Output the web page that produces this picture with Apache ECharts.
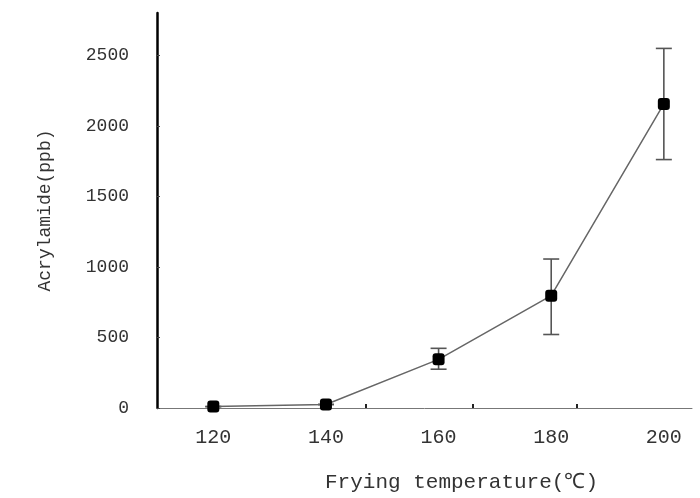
<!DOCTYPE html>
<html>
<head>
<meta charset="utf-8">
<script src="https://cdn.jsdelivr.net/npm/echarts@6/dist/echarts.min.js"></script>
<style>
  html, body { margin: 0; padding: 0; background: #fff; }
  #chart { width: 700px; height: 498px; }
</style>
</head>
<body>
<div id="chart"></div>
<script>
// 油炸温度 (℃)
const temperatures = [120, 140, 160, 180, 200]
// 丙烯酰胺平均值 (ppb)
const acrylamide = [10, 25, 345, 796, 2155]
// 误差线上下限
const errLow = [10, 25, 275, 521, 1761]
const errHigh = [10, 25, 423, 1056, 2549]
// 坐标轴刻度
const xLabels = [120, 140, 160, 180, 200]
const xMinorTicks = [147, 166, 184.6]
const yLabels = [0, 500, 1000, 1500, 2000, 2500]

const fontFamily = '"Liberation Mono", "DejaVu Sans Mono", monospace'

const chart = echarts.init(document.getElementById('chart'))

const errorData = temperatures.map((t, i) => [t, errLow[i], errHigh[i]])

chart.setOption({
  animation: false,
  backgroundColor: '#fff',
  grid: { left: 157, right: 8, top: 13, bottom: 86 },
  xAxis: {
    type: 'value',
    min: 110,
    max: 205,
    name: 'Frying temperature(℃)',
    nameLocation: 'middle',
    nameGap: 64,
    nameTextStyle: { fontFamily, fontSize: 21, color: '#333', padding: [0, 0, 0, 74] },
    axisLine: { lineStyle: { color: '#777', width: 1 } },
    axisTick: { inside: true, length: 4, customValues: xMinorTicks, lineStyle: { color: '#222', width: 2 } },
    axisLabel: { customValues: xLabels, fontFamily, fontSize: 20, color: '#333', margin: 20, formatter: v => String(v) },
    splitLine: { show: false }
  },
  yAxis: {
    type: 'value',
    min: 0,
    max: 2800,
    name: 'Acrylamide(ppb)',
    nameLocation: 'middle',
    nameGap: 103,
    nameTextStyle: { fontFamily, fontSize: 18, color: '#333' },
    axisLine: { show: true, lineStyle: { color: '#000', width: 2.5 } },
    axisTick: { inside: true, length: 3, customValues: yLabels, lineStyle: { color: '#444' } },
    axisLabel: { customValues: yLabels, fontFamily, fontSize: 18, color: '#333', margin: 28, formatter: v => String(v) },
    splitLine: { show: false }
  },
  series: [
    {
      type: 'custom',
      data: errorData,
      z: 3,
      renderItem: (params, api) => {
        const x = api.value(0)
        const lo = api.coord([x, api.value(1)])
        const hi = api.coord([x, api.value(2)])
        const w = 8
        const style = { stroke: '#555', lineWidth: 1.6 }
        return {
          type: 'group',
          children: [
            { type: 'line', shape: { x1: lo[0], y1: lo[1], x2: hi[0], y2: hi[1] }, style },
            { type: 'line', shape: { x1: hi[0] - w, y1: hi[1], x2: hi[0] + w, y2: hi[1] }, style },
            { type: 'line', shape: { x1: lo[0] - w, y1: lo[1], x2: lo[0] + w, y2: lo[1] }, style }
          ]
        }
      }
    },
    {
      type: 'line',
      data: temperatures.map((t, i) => [t, acrylamide[i]]),
      z: 4,
      symbol: 'roundRect',
      symbolSize: 12,
      itemStyle: { color: '#000' },
      lineStyle: { color: '#666', width: 1.5 }
    }
  ]
})
</script>
</body>
</html>
